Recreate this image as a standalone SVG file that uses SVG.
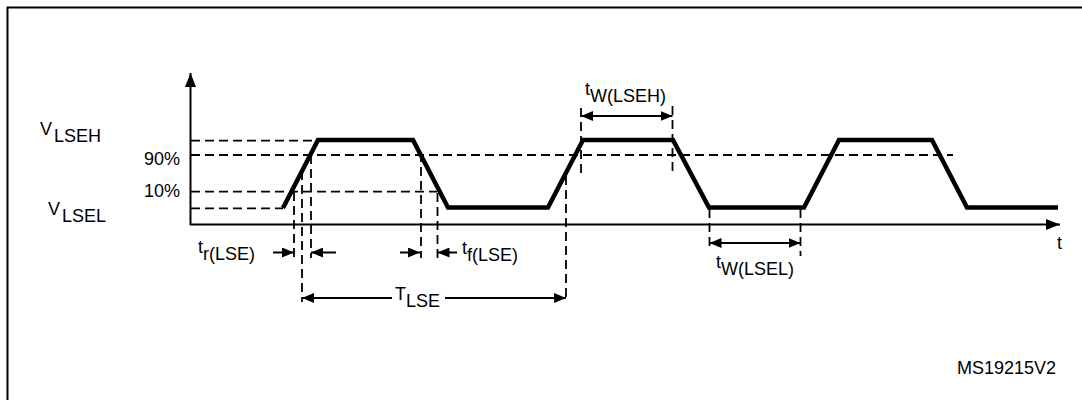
<svg xmlns="http://www.w3.org/2000/svg" width="1082" height="400" viewBox="0 0 1082 400">
<style>
.lbl{font-family:"Liberation Sans",Arial,sans-serif;font-size:18px;fill:#000}
.ax{stroke:#000;stroke-width:2;fill:none}
.dash{stroke:#000;stroke-width:1.8;stroke-dasharray:9 5;fill:none}
.dim{stroke:#000;stroke-width:2;fill:none}
.sig{stroke:#000;stroke-width:4.5;fill:none;stroke-linejoin:miter}
</style>
<defs>
<marker id="ah" viewBox="0 0 12 10" refX="12" refY="5" markerWidth="12" markerHeight="10" markerUnits="userSpaceOnUse" orient="auto-start-reverse"><path d="M0,0L12,5L0,10z" fill="#000"/></marker>
<marker id="axh" viewBox="0 0 14 11" refX="14" refY="5.5" markerWidth="14" markerHeight="11" markerUnits="userSpaceOnUse" orient="auto"><path d="M0,0L14,5.5L0,11z" fill="#000"/></marker>
</defs>
<rect id="frame" x="7.5" y="7.5" width="1100" height="420" fill="none" stroke="#000" stroke-width="2"/>
<g id="axes">
<line class="ax" x1="190.5" y1="225" x2="190.5" y2="73" marker-end="url(#axh)"/>
<line class="ax" x1="190" y1="224.5" x2="1060" y2="224.5" marker-end="url(#axh)"/>
</g>
<g id="signal">
<polyline class="sig" points="283,208 318,140 413,140 448,207.5 548,207.5 583,140 673,140 709,207.5 804,207.5 839,140 932,140 967,207.5 1058,207.5"/>
</g>
<g id="connectors">
<line class="dash" x1="191" y1="140.7" x2="313" y2="140.7"/>
<line class="dash" x1="191" y1="155" x2="953" y2="155"/>
<line class="dash" x1="191" y1="191.7" x2="437" y2="191.7"/>
<line class="dash" x1="191" y1="208.3" x2="283" y2="208.3"/>
<line class="dash" x1="294" y1="192" x2="294" y2="258"/>
<line class="dash" x1="302" y1="171" x2="302" y2="302"/>
<line class="dash" x1="311" y1="155" x2="311" y2="258"/>
<line class="dash" x1="421" y1="153" x2="421" y2="258"/>
<line class="dash" x1="437.5" y1="193" x2="437.5" y2="258"/>
<line class="dash" x1="566" y1="176" x2="566" y2="302"/>
<line class="dash" x1="581" y1="108" x2="581" y2="178"/>
<line class="dash" x1="672.5" y1="106" x2="672.5" y2="175"/>
<line class="dash" x1="709.5" y1="209" x2="709.5" y2="250"/>
<line class="dash" x1="800.5" y1="209" x2="800.5" y2="256"/>
<line class="dim" x1="273" y1="252.5" x2="294" y2="252.5" marker-end="url(#ah)"/>
<line class="dim" x1="336" y1="252.5" x2="311" y2="252.5" marker-end="url(#ah)"/>
<line class="dim" x1="400" y1="252.5" x2="420" y2="252.5" marker-end="url(#ah)"/>
<line class="dim" x1="457" y1="252.5" x2="437.5" y2="252.5" marker-end="url(#ah)"/>
<line class="dim" x1="392" y1="298" x2="302" y2="298" marker-end="url(#ah)"/>
<line class="dim" x1="445" y1="298" x2="566" y2="298" marker-end="url(#ah)"/>
<line class="dim" x1="581" y1="116" x2="672.5" y2="116" marker-start="url(#ah)" marker-end="url(#ah)"/>
<line class="dim" x1="709.5" y1="243" x2="800.5" y2="243" marker-start="url(#ah)" marker-end="url(#ah)"/>
</g>
<g id="labels">
<text id="vlseh" class="lbl" x="40" y="135">V<tspan dx="2" dy="7">LSEH</tspan></text>
<text id="vlsel" class="lbl" x="48" y="215">V<tspan dx="2" dy="7">LSEL</tspan></text>
<text id="p90" class="lbl" x="144" y="165">90%</text>
<text id="p10" class="lbl" x="144" y="197">10%</text>
<text id="twlseh" class="lbl" x="585" y="95">t<tspan dy="7">W(LSEH)</tspan></text>
<text id="trlse" class="lbl" x="198" y="253">t<tspan dy="7">r(LSE)</tspan></text>
<text id="tflse" class="lbl" x="462" y="254">t<tspan dy="7">f(LSE)</tspan></text>
<text id="tlse" class="lbl" x="395" y="300">T<tspan dy="7">LSE</tspan></text>
<text id="twlsel" class="lbl" x="716" y="268">t<tspan dy="7">W(LSEL)</tspan></text>
<text id="taxis" class="lbl" x="1057" y="249">t</text>
<text id="ref" class="lbl" x="957" y="374">MS19215V2</text>
</g>
</svg>
